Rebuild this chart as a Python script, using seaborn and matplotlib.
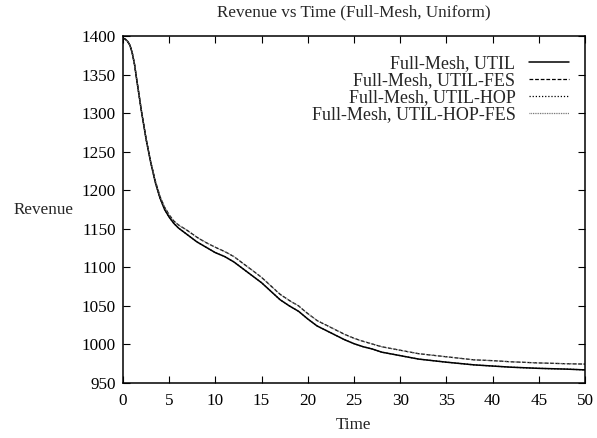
import matplotlib
matplotlib.use("Agg")
import matplotlib.pyplot as plt
import seaborn as sns
import pandas as pd

# ---- data ----
time = [0, 0.25, 0.5, 0.75, 1, 1.25, 1.5, 2, 2.5, 3, 3.5, 4, 4.5, 5, 5.5, 6, 7,
        8, 9, 10, 11, 12, 13, 14, 15, 16, 17, 18, 19, 20, 21, 22, 23, 24, 25,
        26, 27, 28, 30, 32, 35, 38, 40, 42, 45, 48, 50]

util = [1397, 1396, 1393, 1388, 1378, 1363, 1342, 1302, 1266, 1236, 1210, 1190,
        1175, 1165, 1157, 1151, 1142, 1133, 1126, 1119, 1114, 1107, 1098, 1089,
        1080, 1069, 1058, 1050, 1043, 1033, 1024, 1018, 1012, 1006, 1001, 997,
        994, 990, 985.5, 981, 977, 973.5, 972, 970.5, 969, 968, 967]

util_fes = [1397, 1396, 1393, 1388, 1378, 1363, 1343, 1303, 1267, 1237, 1212,
            1192, 1178, 1168, 1160, 1155, 1147.5, 1139, 1132, 1126, 1120.5, 1114,
            1105, 1096, 1087, 1076, 1065, 1057, 1050, 1040, 1031, 1025, 1019,
            1013, 1008, 1004, 1000.5, 997, 992.5, 988, 984, 980, 979, 977.5, 976,
            975, 974.5]

util_hop = [1397, 1396, 1393, 1388, 1378, 1363, 1342, 1302, 1266, 1236, 1210,
            1190, 1175, 1165, 1157, 1151, 1142, 1133, 1126, 1119, 1114, 1107,
            1098, 1089, 1080, 1069, 1058, 1050, 1043, 1033, 1024, 1018, 1012,
            1006, 1001, 997, 994, 990, 985.5, 981, 977, 973.5, 972, 970.5, 969,
            968, 967]

util_hop_fes = [1397, 1396, 1393, 1388, 1378, 1363, 1343, 1303, 1267, 1237, 1212,
                1192, 1178, 1168, 1160, 1155, 1147.5, 1139, 1132, 1126, 1120.5,
                1114, 1105, 1096, 1087, 1076, 1065, 1057, 1050, 1040, 1031, 1025,
                1019, 1013, 1008, 1004, 1000.5, 997, 992.5, 988, 984, 980, 979,
                977.5, 976, 975, 974.5]

labels = ["Full-Mesh, UTIL", "Full-Mesh, UTIL-FES",
          "Full-Mesh, UTIL-HOP", "Full-Mesh, UTIL-HOP-FES"]
series = [util, util_fes, util_hop, util_hop_fes]

x_ticks = [0, 5, 10, 15, 20, 25, 30, 35, 40, 45, 50]
y_ticks = [950, 1000, 1050, 1100, 1150, 1200, 1250, 1300, 1350, 1400]

# ---- styling ----
sns.set_theme(style="ticks")
plt.rcParams["font.family"] = ["Liberation Serif", "DejaVu Serif"]
plt.rcParams["font.size"] = 12.3

fig = plt.figure(figsize=(5.97, 4.38), dpi=100)
ax = fig.add_axes([123 / 597, 1 - 383 / 438, (585 - 123) / 597, (383 - 36) / 438])

styles = [
    dict(color="black", linewidth=1.1, linestyle="-"),
    dict(color="black", linewidth=0.9, linestyle=(0, (3, 1.5))),
    dict(color="black", linewidth=0.9, linestyle=(0, (1, 1.5))),
    dict(color="#666666", linewidth=0.9, linestyle=(0, (0.7, 0.7))),
]

for lab, vals, st in zip(labels, series, styles):
    df = pd.DataFrame({"Time": time, "Revenue": vals})
    sns.lineplot(data=df, x="Time", y="Revenue", ax=ax, label=lab, **st)

ax.set_xlim(0, 50)
ax.set_ylim(950, 1400)
ax.set_xticks(x_ticks)
ax.set_yticks(y_ticks)
ax.tick_params(direction="in", length=5, width=0.8, top=True, right=True,
               labelsize=12.3, colors="black")
ax.tick_params(axis="y", pad=5)
ax.tick_params(axis="x", pad=7)
for sp in ax.spines.values():
    sp.set_visible(True)
    sp.set_linewidth(1.1)
    sp.set_color("black")

ax.set_xlabel("Time", fontsize=12.3)
ax.xaxis.set_label_coords(0.5, (383 - 425) / 347)
ax.xaxis.label.set_va("center")
ax.set_ylabel("Revenue", fontsize=12.3, rotation=0, ha="center", va="center")
ax.yaxis.set_label_coords((44 - 123) / 462, 0.5)
ax.set_title("Revenue vs Time (Full-Mesh, Uniform)", fontsize=12.3, pad=14)

leg = ax.legend(loc="upper right", bbox_to_anchor=(1.0, 0.991),
                frameon=False, markerfirst=False,
                handlelength=2.2, handletextpad=0.75, labelspacing=0.0,
                borderaxespad=0.5, fontsize=13)
for t in leg.get_texts():
    t.set_ha("right")
leg._legend_box.align = "right"

fig.savefig("out.png", dpi=100)
